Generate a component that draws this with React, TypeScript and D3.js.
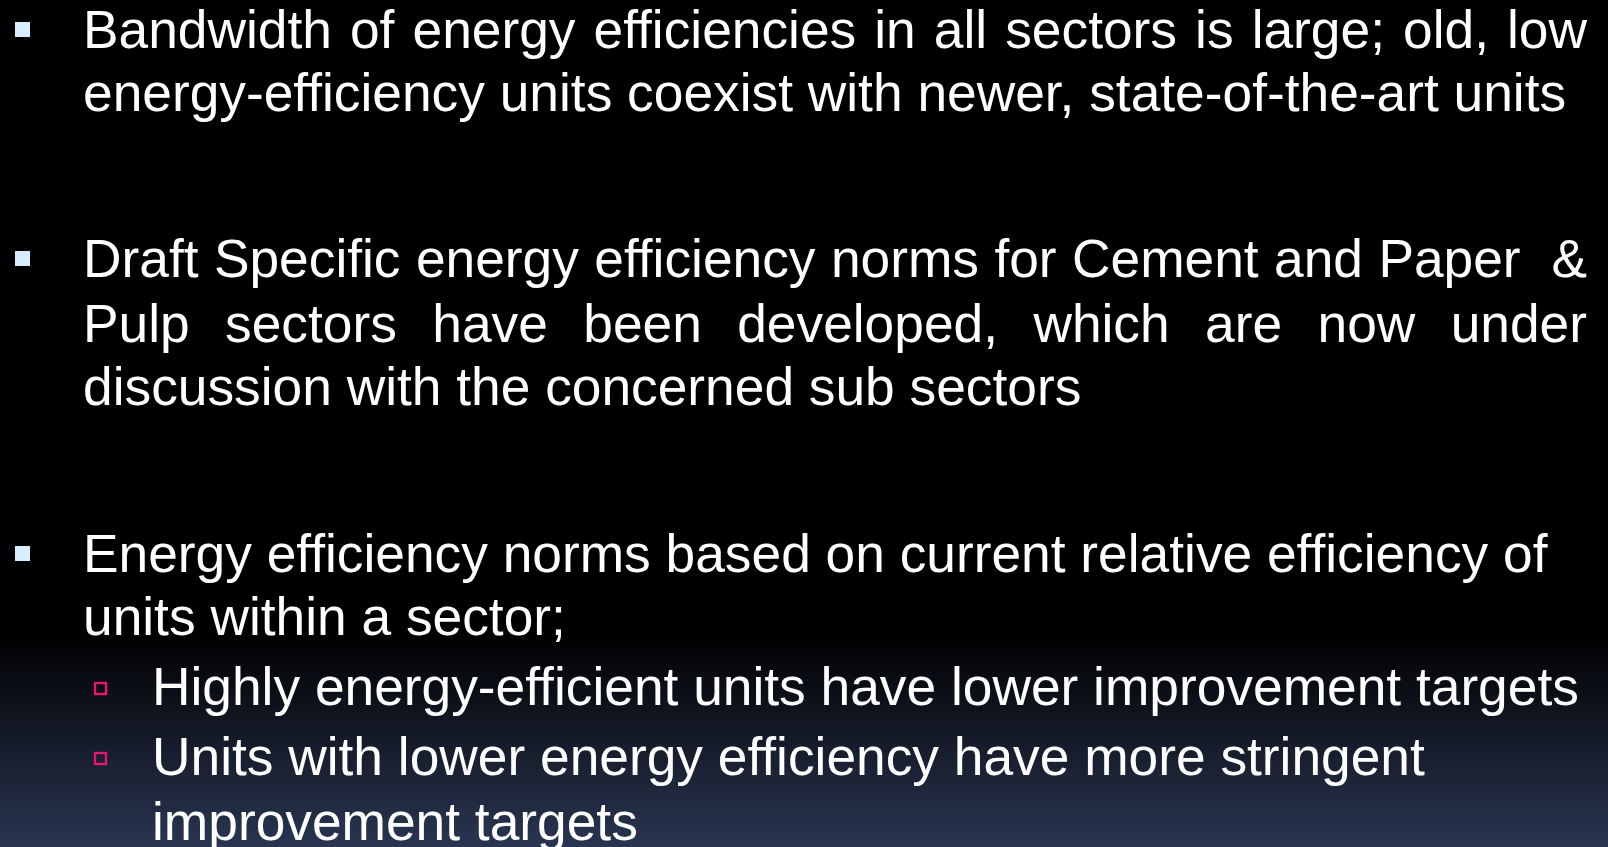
import React, { useRef, useEffect } from "react";
import { select } from "d3";

// slide content
const mainBullets = [
  ["Bandwidth of energy efficiencies in all sectors is large; old, low",
   "energy-efficiency units coexist with newer, state-of-the-art units"],
  ["Draft Specific energy efficiency norms for Cement and Paper  &",
   "Pulp sectors have been developed, which are now under",
   "discussion with the concerned sub sectors"],
  ["Energy efficiency norms based on current relative efficiency of",
   "units within a sector;"],
];
const subBullets = [
  ["Highly energy-efficient units have lower improvement targets"],
  ["Units with lower energy efficiency have more stringent",
   "improvement targets"],
];
// which lines are justified (paragraph index -> line indexes)
const justified = [[0], [0, 1], []];

const mainBaselines = [[48, 111], [277, 342, 405], [572, 635]];
const subBaselines = [[705], [775, 840]];

const W = 1608;
const H = 847;
const FONT = "'Liberation Sans', Arial, sans-serif";

function App() {
  const svgRef = useRef<SVGSVGElement>(null);

  useEffect(() => {
    document.body.style.margin = "0";
    document.body.style.overflow = "hidden";
    const svg = select(svgRef.current);
    svg.selectAll("*").remove();

    const defs = svg.append("defs");
    const grad = defs.append("linearGradient")
      .attr("id", "bg").attr("x1", 0).attr("y1", 0).attr("x2", 0).attr("y2", 1);
    grad.append("stop").attr("offset", 0).attr("stop-color", "#000");
    grad.append("stop").attr("offset", 632 / H).attr("stop-color", "#000");
    grad.append("stop").attr("offset", 1).attr("stop-color", "#293551");

    svg.append("rect").attr("width", W).attr("height", H).attr("fill", "url(#bg)");

    const g = svg.append("g")
      .attr("font-family", FONT)
      .attr("font-size", 53.3)
      .attr("fill", "#fff");

    const textX = 83;
    const rightEdge = 1587;

    mainBullets.forEach((lines, pi) => {
      const b0 = mainBaselines[pi][0];
      g.append("rect")
        .attr("x", 15).attr("y", b0 - 26)
        .attr("width", 15).attr("height", 15)
        .attr("fill", "#d7ecfe");
      lines.forEach((line, li) => {
        const y = mainBaselines[pi][li];
        if (justified[pi].includes(li)) {
          // split on single spaces so a double space counts as two gaps
          const words = line.split(" ");
          const nodes = words.map((w) => g.append("text").attr("y", y).text(w));
          const widths = nodes.map((n) => (n.node() as SVGTextElement).getComputedTextLength());
          const total = widths.reduce((a, b) => a + b, 0);
          const gap = (rightEdge - textX - total) / (words.length - 1);
          let x = textX;
          nodes.forEach((n, i) => {
            n.attr("x", x);
            x += widths[i] + gap;
          });
        } else {
          g.append("text").attr("x", textX).attr("y", y).text(line);
        }
      });
    });

    const subX = 152;
    subBullets.forEach((lines, pi) => {
      const b0 = subBaselines[pi][0];
      g.append("rect")
        .attr("x", 95).attr("y", b0 - 22)
        .attr("width", 11).attr("height", 11)
        .attr("fill", "none")
        .attr("stroke", "#e3176d")
        .attr("stroke-width", 2.4);
      lines.forEach((line, li) => {
        g.append("text").attr("x", subX).attr("y", subBaselines[pi][li]).text(line);
      });
    });
  }, []);

  return <svg ref={svgRef} width={W} height={H} style={{ display: "block" }} />;
}

export default App;
